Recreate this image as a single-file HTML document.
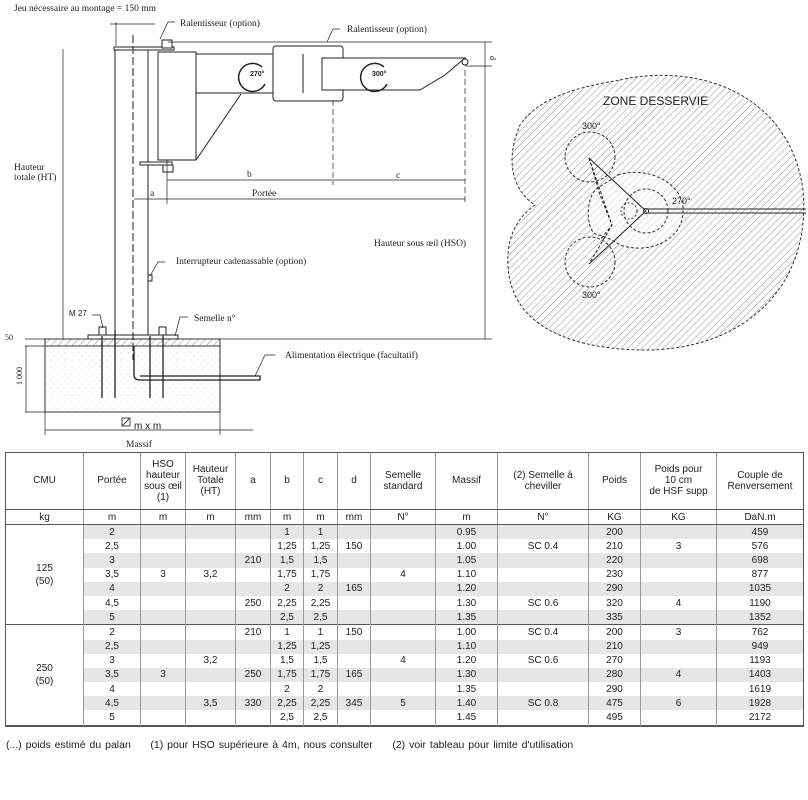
<!DOCTYPE html>
<html><head><meta charset="utf-8">
<style>
body{margin:0;width:808px;height:800px;background:#fff;font-family:"Liberation Sans",sans-serif;overflow:hidden;position:relative}
svg{position:absolute;left:0;top:0}
table{position:absolute;left:5px;top:452px;border-collapse:collapse;table-layout:fixed;width:798px;font-size:10px;color:#222}
td{border-left:1px solid #999;border-right:1px solid #999;text-align:center;padding:0;height:14.2px;line-height:13px}
tr.h td{height:57px;line-height:11px;border-bottom:1px solid #555}
tr.u td{height:14px;border-bottom:1px solid #555}
tr.g td.s{background:#e6e6e6}
tr.sep td{border-top:1px solid #555}
.foot{position:absolute;left:6px;top:739px;font-size:10.5px;color:#222;word-spacing:1px}
</style></head><body>
<svg width="808" height="450" viewBox="0 0 808 450" font-family="Liberation Sans, sans-serif" fill="none" stroke="#222" stroke-width="1">
<defs>
<pattern id="h" width="5" height="5" patternUnits="userSpaceOnUse" patternTransform="rotate(45)"><line x1="0" y1="0" x2="0" y2="5" stroke="#777" stroke-width="0.8"/></pattern>
<pattern id="dots" width="7" height="7" patternUnits="userSpaceOnUse"><circle cx="2" cy="3" r="0.4" fill="#888" stroke="none"/><circle cx="5" cy="6" r="0.4" fill="#aaa" stroke="none"/></pattern>
</defs>
<!-- zone desservie -->
<path d="M620,80 C700,62 790,95 803,190 C812,290 740,352 640,350 C560,348 510,320 508,265 C506,235 520,215 535,205 C512,190 505,160 520,125 C540,95 585,86 620,80 Z" fill="url(#h)" stroke="#333" stroke-dasharray="3,2"/>
<path d="M618,175 C650,165 685,185 683,212 C682,240 650,255 620,245 C610,238 600,235 598,235 C585,233 585,195 598,188 Z" fill="#fff" fill-opacity="0.55" stroke="#333" stroke-dasharray="3,2"/>
<circle cx="590" cy="157" r="25" stroke="#333" stroke-dasharray="3,2"/>
<circle cx="590" cy="262" r="25" stroke="#333" stroke-dasharray="3,2"/>
<circle cx="646" cy="211" r="22" stroke="#333" stroke-dasharray="3,2"/>
<circle cx="629" cy="211" r="8" stroke="#333" stroke-dasharray="2,2"/>
<line x1="646" y1="209" x2="806" y2="209"/><line x1="646" y1="213" x2="806" y2="213"/>
<line x1="646" y1="211" x2="589" y2="158"/><line x1="646" y1="211" x2="589" y2="264"/>
<polyline points="589,158 612,225 589,264" stroke-dasharray="3,2"/>
<polyline points="589,158 600,195 612,225 600,240" stroke-dasharray="3,2"/>
<circle cx="646" cy="211" r="2.5"/>
<rect x="603" y="92" width="80" height="14" fill="#fff" stroke="none" opacity="0.6"/>
<g fill="#222" stroke="none" font-size="12"><text x="603" y="105">ZONE DESSERVIE</text></g>
<g fill="#222" stroke="none" font-size="9"><text x="582" y="129">300°</text><text x="582" y="298">300°</text><text x="672" y="204">270°</text></g>

<!-- crane -->
<rect x="45" y="339" width="175" height="73" fill="url(#dots)" stroke="#333"/>
<rect x="45" y="339" width="175" height="7" fill="url(#h)" stroke="#333"/>
<rect x="88" y="335" width="90" height="4" fill="#fff"/>
<rect x="115" y="49" width="33" height="286" fill="#fff"/>
<rect x="114" y="47" width="60" height="3" fill="#fff"/>
<line x1="133" y1="35" x2="133" y2="360" stroke-dasharray="8,3"/>
<rect x="158" y="52" width="38" height="108" fill="#fff"/>
<path d="M196,54 L303,54 L303,93 L196,93 Z" fill="#fff"/>
<line x1="196" y1="160" x2="241" y2="94"/>
<rect x="273" y="46" width="70" height="55" rx="3" fill="#fff"/>
<line x1="303" y1="54" x2="303" y2="93"/>
<path d="M322,58 L450,58 L465,58 L445,75 L420,90 L322,90 Z" fill="#fff"/>
<circle cx="465" cy="62" r="3"/>
<rect x="140" y="162" width="32" height="3" fill="#fff"/>
<rect x="163" y="165" width="10" height="7" fill="#fff"/>
<rect x="162" y="40" width="10" height="8" fill="#fff"/>
<path d="M262,67 A14,14 0 1 0 265,84" stroke-width="1.5"/><path d="M384,67 A14,14 0 1 0 387,84" stroke-width="1.5"/>
<g fill="#222" stroke="none" font-size="7" font-weight="bold"><text x="250" y="76">270°</text><text x="372" y="76">300°</text></g>
<rect x="148" y="275" width="4" height="6" fill="#fff"/>
<!-- feet -->
<g stroke-width="1.3"><line x1="102" y1="336" x2="102" y2="398"/><line x1="115" y1="330" x2="115" y2="398"/><line x1="150" y1="336" x2="150" y2="398"/><line x1="163" y1="330" x2="163" y2="398"/>
<path d="M134,346 L134,375 Q134,380 140,380 L260,380 L260,376 L140,376"/></g>
<rect x="99" y="327" width="7" height="8" fill="#fff"/><rect x="159" y="327" width="7" height="8" fill="#fff"/>
<!-- dims -->
<g stroke-width="0.7"><line x1="63" y1="49" x2="63" y2="339"/><line x1="485" y1="66" x2="485" y2="339"/><line x1="485" y1="42" x2="485" y2="66"/>
<line x1="167" y1="180" x2="333" y2="180"/><line x1="333" y1="180" x2="465" y2="180"/><line x1="134" y1="199" x2="465" y2="199"/>
<line x1="333" y1="100" x2="333" y2="185" stroke-dasharray="6,3"/><line x1="465" y1="70" x2="465" y2="204" stroke-dasharray="6,3"/><line x1="167" y1="160" x2="167" y2="204"/>
<line x1="168" y1="42" x2="492" y2="42"/><line x1="465" y1="66" x2="492" y2="66"/><line x1="220" y1="339" x2="492" y2="339"/>
<line x1="25" y1="339" x2="45" y2="339"/><line x1="25" y1="346" x2="45" y2="346"/><line x1="25" y1="412" x2="45" y2="412"/><line x1="26" y1="346" x2="26" y2="412"/>
<line x1="45" y1="430" x2="253" y2="430"/><line x1="45" y1="412" x2="45" y2="435"/><line x1="220" y1="412" x2="220" y2="435"/>
<line x1="116" y1="22" x2="116" y2="46"/><line x1="110" y1="24" x2="155" y2="24"/>
<polyline points="150,276 158,262 165,262"/><polyline points="160,39 168,22 175,22"/><polyline points="327,42 333,29 340,29"/><polyline points="92,315 100,315 103,328"/><polyline points="175,336 180,317 188,317"/><polyline points="255,376 265,355 275,355"/></g>
<rect x="122" y="418" width="8" height="8" stroke-width="0.8"/><line x1="122" y1="426" x2="130" y2="418" stroke-width="0.8"/>
<g fill="#222" stroke="none" font-size="9.5" font-family="Liberation Serif, serif">
<text x="14" y="11">Jeu nécessaire au montage = 150 mm</text>
<text x="180" y="26">Ralentisseur (option)</text>
<text x="347" y="32">Ralentisseur (option)</text>
<text x="14" y="170">Hauteur</text><text x="14" y="180">totale (HT)</text>
<text x="247" y="177">b</text><text x="396" y="178">c</text><text x="150" y="196">a</text><text x="252" y="196">Portée</text>
<text x="374" y="246">Hauteur sous œil (HSO)</text>
<text x="176" y="264">Interrupteur cadenassable (option)</text>
<text x="69" y="316" font-family="Liberation Sans" font-size="8">M 27</text>
<text x="194" y="321">Semelle n°</text>
<text x="5" y="340" font-size="8">50</text>
<text x="285" y="358">Alimentation électrique (facultatif)</text>
<text x="134" y="429" font-family="Liberation Sans" font-size="10">m x m</text>
<text x="126" y="447">Massif</text>
<text x="490" y="56" font-size="8" transform="rotate(90 490 56)">d</text>
<text x="22" y="385" font-size="8" transform="rotate(-90 22 385)">1 000</text>
</g>
</svg>
<table>
<colgroup><col style="width:78px"><col style="width:57px"><col style="width:45px"><col style="width:50px"><col style="width:35px"><col style="width:33px"><col style="width:34px"><col style="width:33px"><col style="width:65px"><col style="width:62px"><col style="width:91px"><col style="width:52px"><col style="width:76px"><col style="width:87px"></colgroup>
<tr class="h"><td>CMU</td><td>Portée</td><td>HSO<br>hauteur<br>sous œil<br>(1)</td><td>Hauteur<br>Totale<br>(HT)</td><td>a</td><td>b</td><td>c</td><td>d</td><td>Semelle<br>standard</td><td>Massif</td><td>(2) Semelle à<br>cheviller</td><td>Poids</td><td>Poids pour<br>10 cm<br>de HSF supp</td><td>Couple de<br>Renversement</td></tr>
<tr class="u"><td>kg</td><td>m</td><td>m</td><td>m</td><td>mm</td><td>m</td><td>m</td><td>mm</td><td>N°</td><td>m</td><td>N°</td><td>KG</td><td>KG</td><td>DaN.m</td></tr>
<tr class="g"><td rowspan="7">125<br>(50)</td><td class="s">2</td><td class="s"></td><td class="s"></td><td class="s"></td><td class="s">1</td><td class="s">1</td><td class="s"></td><td class="s"></td><td class="s">0.95</td><td class="s"></td><td class="s">200</td><td class="s"></td><td class="s">459</td></tr>
<tr><td>2,5</td><td></td><td></td><td></td><td>1,25</td><td>1,25</td><td>150</td><td></td><td>1.00</td><td>SC 0.4</td><td>210</td><td>3</td><td>576</td></tr>
<tr class="g"><td class="s">3</td><td class="s"></td><td class="s"></td><td class="s">210</td><td class="s">1,5</td><td class="s">1,5</td><td class="s"></td><td class="s"></td><td class="s">1.05</td><td class="s"></td><td class="s">220</td><td class="s"></td><td class="s">698</td></tr>
<tr><td>3,5</td><td>3</td><td>3,2</td><td></td><td>1,75</td><td>1,75</td><td></td><td>4</td><td>1.10</td><td></td><td>230</td><td></td><td>877</td></tr>
<tr class="g"><td class="s">4</td><td class="s"></td><td class="s"></td><td class="s"></td><td class="s">2</td><td class="s">2</td><td class="s">165</td><td class="s"></td><td class="s">1.20</td><td class="s"></td><td class="s">290</td><td class="s"></td><td class="s">1035</td></tr>
<tr><td>4,5</td><td></td><td></td><td>250</td><td>2,25</td><td>2,25</td><td></td><td></td><td>1.30</td><td>SC 0.6</td><td>320</td><td>4</td><td>1190</td></tr>
<tr class="g"><td class="s">5</td><td class="s"></td><td class="s"></td><td class="s"></td><td class="s">2,5</td><td class="s">2,5</td><td class="s"></td><td class="s"></td><td class="s">1.35</td><td class="s"></td><td class="s">335</td><td class="s"></td><td class="s">1352</td></tr>
<tr class="sep"><td rowspan="7">250<br>(50)</td><td>2</td><td></td><td></td><td>210</td><td>1</td><td>1</td><td>150</td><td></td><td>1.00</td><td>SC 0.4</td><td>200</td><td>3</td><td>762</td></tr>
<tr class="g"><td class="s">2,5</td><td class="s"></td><td class="s"></td><td class="s"></td><td class="s">1,25</td><td class="s">1,25</td><td class="s"></td><td class="s"></td><td class="s">1.10</td><td class="s"></td><td class="s">210</td><td class="s"></td><td class="s">949</td></tr>
<tr><td>3</td><td></td><td>3,2</td><td></td><td>1,5</td><td>1,5</td><td></td><td>4</td><td>1.20</td><td>SC 0.6</td><td>270</td><td></td><td>1193</td></tr>
<tr class="g"><td class="s">3,5</td><td class="s">3</td><td class="s"></td><td class="s">250</td><td class="s">1,75</td><td class="s">1,75</td><td class="s">165</td><td class="s"></td><td class="s">1.30</td><td class="s"></td><td class="s">280</td><td class="s">4</td><td class="s">1403</td></tr>
<tr><td>4</td><td></td><td></td><td></td><td>2</td><td>2</td><td></td><td></td><td>1.35</td><td></td><td>290</td><td></td><td>1619</td></tr>
<tr class="g"><td class="s">4,5</td><td class="s"></td><td class="s">3,5</td><td class="s">330</td><td class="s">2,25</td><td class="s">2,25</td><td class="s">345</td><td class="s">5</td><td class="s">1.40</td><td class="s">SC 0.8</td><td class="s">475</td><td class="s">6</td><td class="s">1928</td></tr>
<tr style="border-bottom:1px solid #555"><td>5</td><td></td><td></td><td></td><td>2,5</td><td>2,5</td><td></td><td></td><td>1.45</td><td></td><td>495</td><td></td><td>2172</td></tr>
</table>
<div style="position:absolute;left:5px;top:452px;width:797px;height:273px;border:1px solid #555;pointer-events:none"></div>
<div class="foot">(...) poids estimé du palan &nbsp;&nbsp;&nbsp; (1) pour HSO supérieure à 4m, nous consulter &nbsp;&nbsp;&nbsp; (2) voir tableau pour limite d'utilisation</div>
</body></html>
